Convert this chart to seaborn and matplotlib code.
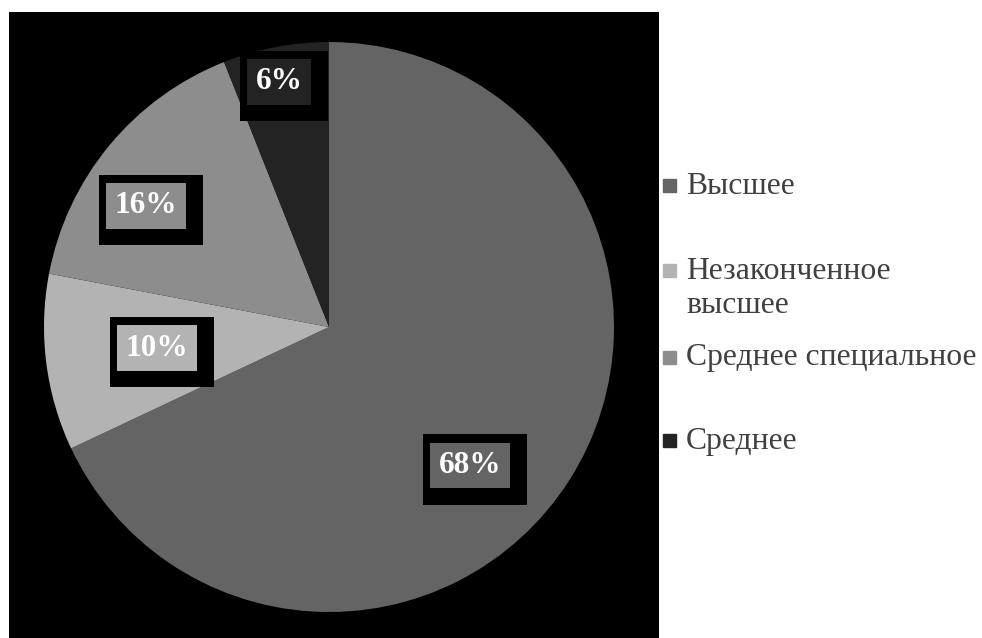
"""Education level pie chart (recreated)."""
import matplotlib
matplotlib.use("Agg")
import matplotlib.pyplot as plt
import matplotlib.transforms as mtransforms
from matplotlib.patches import Rectangle
import seaborn as sns

categories = ["Высшее", "Незаконченное\nвысшее", "Среднее специальное", "Среднее"]
shares = [68, 10, 16, 6]
pct_labels = ["68%", "10%", "16%", "6%"]
colors = ["#646464", "#b3b3b3", "#8d8d8d", "#232323"]

# label box centres (data coords, pie radius = 1)
label_pos = [(0.495, -0.486), (-0.604, -0.074), (-0.642, 0.425), (-0.175, 0.860)]
# legend first-line centre y (figure pixels from top)
legend_y = [186, 271, 358, 441]

sns.set_style("white")
plt.rcParams["font.family"] = ["Liberation Serif", "DejaVu Serif"]

W, H = 982, 638
fig = plt.figure(figsize=(W / 100, H / 100), dpi=100)
fig.patch.set_facecolor("white")

# black plot area
bg = fig.add_axes([9 / W, 0, 650 / W, 1 - 12 / H], zorder=0)
bg.set_facecolor("black")
bg.set_xticks([])
bg.set_yticks([])
for s in bg.spines.values():
    s.set_visible(False)

cx, cy, r = 329, 327, 285
ax = fig.add_axes([(cx - r) / W, 1 - (cy + r) / H, 2 * r / W, 2 * r / H], zorder=1)
ax.set_facecolor("none")
ax.pie(shares, colors=sns.color_palette(colors), startangle=90, counterclock=False,
       radius=1, wedgeprops={"linewidth": 0})
ax.set_xlim(-1, 1)
ax.set_ylim(-1, 1)
ax.set_aspect("equal")
ax.axis("off")

for txt, (x, y), c in zip(pct_labels, label_pos, colors):
    shadow = mtransforms.offset_copy(ax.transData, fig=fig, x=5, y=-4, units="dots")
    ax.text(x, y, txt, transform=shadow, ha="center", va="center", fontsize=22.5,
            fontweight="bold", color="black",
            bbox=dict(boxstyle="square,pad=0.66", fc="black", ec="none"))
    ax.text(x, y, txt, ha="center", va="center", fontsize=22.5, fontweight="bold",
            color="white", bbox=dict(boxstyle="square,pad=0.27", fc=c, ec="none"))

for lab, ypx, c in zip(categories, legend_y, colors):
    fig.patches.append(Rectangle((663 / W, 1 - (ypx + 6) / H), 13 / W, 13 / H,
                                 transform=fig.transFigure, color=c))
    lines = lab.split("\n")
    for i, line in enumerate(lines):
        fig.text(686 / W, 1 - (ypx + i * 35) / H, line, ha="left", va="center",
                 fontsize=22.8, color="#404040")

fig.savefig("out.png", dpi=100)
